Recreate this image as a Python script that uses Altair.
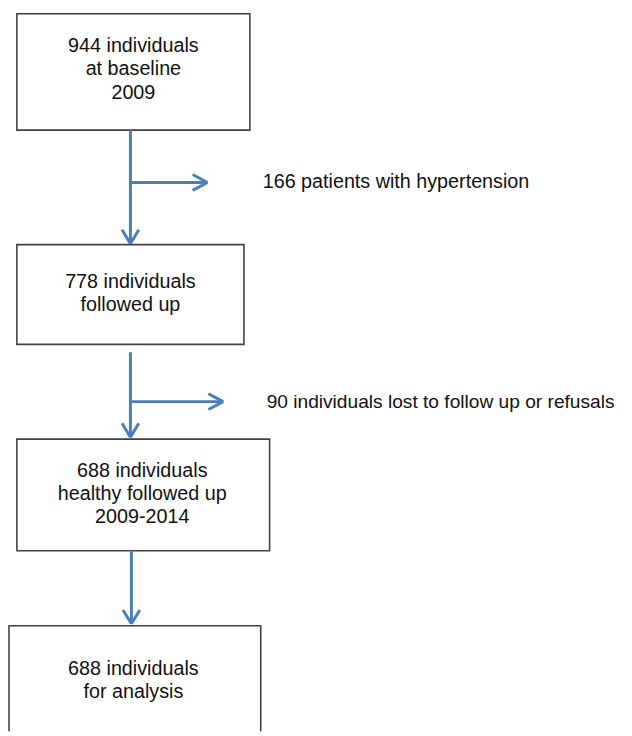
import altair as alt
import pandas as pd

# Flowchart content
box_lines = [
    ["944 individuals", "at baseline", "2009"],
    ["778 individuals", "followed up"],
    ["688 individuals", "healthy followed up", "2009-2014"],
    ["688 individuals", "for analysis"],
]
side_labels = ["166 patients with hypertension",
               "90 individuals lost to follow up or refusals"]

# Layout (page pixel coordinates)
box_x1 = [17, 17, 17, 9]
box_x2 = [253, 247, 273, 264]
box_y1 = [9, 243, 440, 629]
box_y2 = [127, 344, 553, 745]
box_cx = [135, 132, 144, 135]
box_ty = [42, 281, 472, 673]
line_h = 23.5

arrow_x = [132, 132, 133]
arrow_y1 = [127, 352, 553]
arrow_y2 = [242, 438, 627]
branch_y = [180, 402]
branch_x2 = [210, 226]
side_x = [266, 270]
side_size = [20, 19.4]

BLUE = "#4a7ebb"
W, H = 624, 728
X0, Y0 = 8, 8

boxes = pd.DataFrame({"x1": box_x1, "x2": box_x2, "y1": box_y1, "y2": box_y2})

rows = []
for i, lines in enumerate(box_lines):
    for j, t in enumerate(lines):
        rows.append({"x": box_cx[i], "y": box_ty[i] + j * line_h, "t": t})
texts = pd.DataFrame(rows)

side = pd.DataFrame({"x": side_x, "y": branch_y, "t": side_labels, "s": side_size})

segs = []
for i in range(3):
    ax, a1, a2 = arrow_x[i], arrow_y1[i], arrow_y2[i]
    segs.append({"x1": ax, "y1": a1, "x2": ax, "y2": a2})
    segs.append({"x1": ax - 8.5, "y1": a2 - 14, "x2": ax, "y2": a2})
    segs.append({"x1": ax + 8.5, "y1": a2 - 14, "x2": ax, "y2": a2})
for i in range(2):
    by, bx2, ax = branch_y[i], branch_x2[i], arrow_x[i]
    segs.append({"x1": ax, "y1": by, "x2": bx2, "y2": by})
    segs.append({"x1": bx2 - 15, "y1": by - 8, "x2": bx2, "y2": by})
    segs.append({"x1": bx2 - 15, "y1": by + 8, "x2": bx2, "y2": by})
segs = pd.DataFrame(segs)

xs = alt.Scale(domain=[X0, X0 + W], range=[0, W])
ys = alt.Scale(domain=[Y0, Y0 + H], range=[0, H])

rect = alt.Chart(boxes).mark_rect(fill="white", stroke="#404040", strokeWidth=1.6, clip=True).encode(
    x=alt.X("x1:Q", scale=xs, axis=None), x2="x2:Q",
    y=alt.Y("y1:Q", scale=ys, axis=None), y2="y2:Q")

rules = alt.Chart(segs).mark_rule(color=BLUE, strokeWidth=3, strokeCap="butt").encode(
    x=alt.X("x1:Q", scale=xs, axis=None), x2="x2:Q",
    y=alt.Y("y1:Q", scale=ys, axis=None), y2="y2:Q")

txt = alt.Chart(texts).mark_text(font="Liberation Sans", fontSize=20, color="#111111",
                                 align="center", baseline="middle").encode(
    x=alt.X("x:Q", scale=xs, axis=None), y=alt.Y("y:Q", scale=ys, axis=None), text="t:N")

stxt = alt.Chart(side).mark_text(font="Liberation Sans", color="#111111",
                                 align="left", baseline="middle").encode(
    x=alt.X("x:Q", scale=xs, axis=None), y=alt.Y("y:Q", scale=ys, axis=None), text="t:N",
    size=alt.Size("s:Q", scale=None, legend=None))

chart = alt.layer(rect, rules, txt, stxt).properties(
    width=W, height=H, padding=0, autosize=alt.AutoSizeParams(type="none")
).configure_view(stroke=None)

chart.save("out.html", embed_options={"renderer": "svg", "actions": False})
